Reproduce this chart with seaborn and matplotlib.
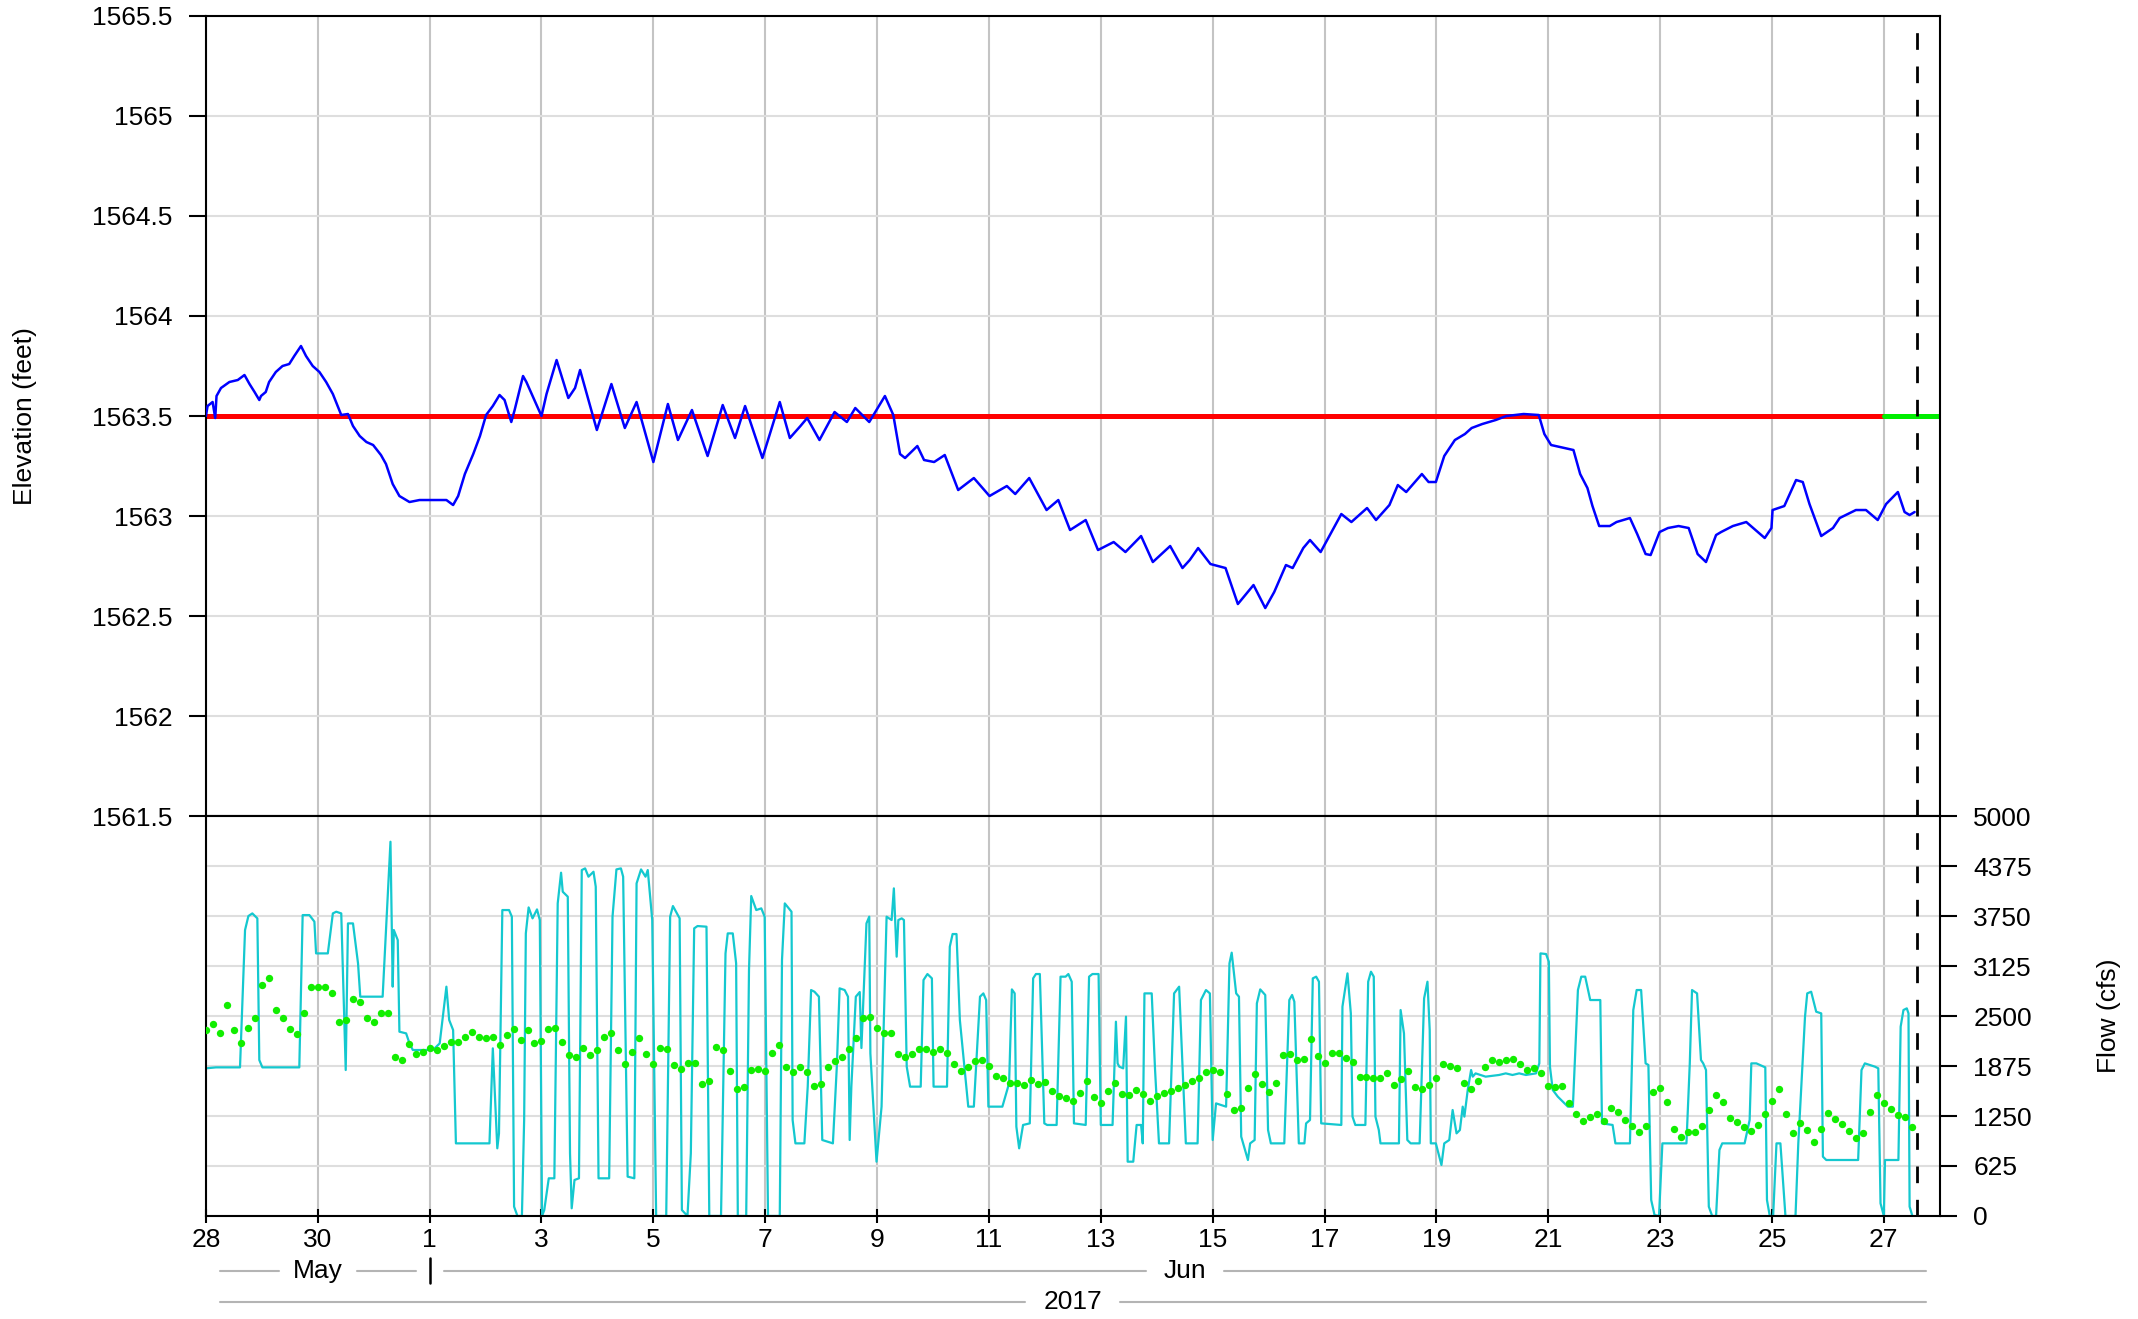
import pandas as pd
import seaborn as sns
import matplotlib.pyplot as plt
import matplotlib.dates as mdates
import matplotlib.transforms as mtransforms

start = pd.Timestamp('2017-05-28')

# lake elevation (days after May 28, feet)
elev_days = [0, 0.03, 0.12, 0.167, 0.19, 0.27, 0.42, 0.57, 0.69, 0.78, 0.87, 0.955, 0.985,
             1.07, 1.13, 1.25, 1.37, 1.49, 1.58, 1.70, 1.79, 1.91, 2.03, 2.15, 2.27, 2.42,
             2.54, 2.63, 2.75, 2.87, 2.99, 3.13, 3.22, 3.34, 3.46, 3.64, 3.82, 4.12, 4.30,
             4.42, 4.51, 4.63, 4.78, 4.90, 5.01, 5.13, 5.25, 5.34, 5.46, 5.52, 5.67, 5.73,
             6.00, 6.09, 6.27, 6.48, 6.60, 6.69, 6.99, 7.25, 7.49, 7.70, 8.00, 8.26, 8.44,
             8.69, 8.97, 9.24, 9.46, 9.64, 9.95, 10.26, 10.44, 10.63, 10.75, 10.97, 11.24,
             11.46, 11.61, 11.86, 12.14, 12.29, 12.41, 12.50, 12.72, 12.84, 13.02, 13.21,
             13.45, 13.73, 14.01, 14.32, 14.47, 14.72, 15.03, 15.24, 15.45, 15.73, 15.95,
             16.23, 16.44, 16.72, 16.93, 17.24, 17.46, 17.59, 17.74, 17.96, 18.23, 18.45,
             18.73, 18.94, 19.10, 19.31, 19.43, 19.62, 19.74, 19.93, 20.30, 20.48, 20.76,
             20.92, 21.16, 21.31, 21.46, 21.74, 21.86, 21.99, 22.14, 22.33, 22.51, 22.63,
             22.82, 23.06, 23.25, 23.56, 23.83, 23.93, 24.05, 24.29, 24.45, 24.57, 24.70,
             24.79, 24.91, 25.10, 25.22, 25.46, 25.59, 25.74, 25.83, 25.99, 26.14, 26.33,
             26.51, 26.67, 26.82, 27.00, 27.09, 27.30, 27.54, 27.87, 27.99, 28.01, 28.22,
             28.43, 28.55, 28.67, 28.88, 29.09, 29.21, 29.50, 29.68, 29.89, 30.04, 30.25,
             30.37, 30.46, 30.55]
elev_feet = [1563.50, 1563.55, 1563.57, 1563.49, 1563.60, 1563.64, 1563.67, 1563.68, 1563.705,
             1563.66, 1563.62, 1563.58, 1563.60, 1563.62, 1563.67, 1563.72, 1563.75, 1563.76,
             1563.80, 1563.85, 1563.80, 1563.75, 1563.72, 1563.67, 1563.61, 1563.505, 1563.51,
             1563.45, 1563.40, 1563.37, 1563.355, 1563.305, 1563.26, 1563.16, 1563.10, 1563.07,
             1563.08, 1563.08, 1563.08, 1563.055, 1563.10, 1563.21, 1563.31, 1563.40, 1563.505,
             1563.55, 1563.605, 1563.58, 1563.47, 1563.53, 1563.70, 1563.67, 1563.50, 1563.61,
             1563.78, 1563.59, 1563.64, 1563.73, 1563.43, 1563.66, 1563.44, 1563.57, 1563.27,
             1563.56, 1563.38, 1563.53, 1563.30, 1563.555, 1563.39, 1563.55, 1563.29, 1563.57,
             1563.39, 1563.45, 1563.49, 1563.38, 1563.52, 1563.47, 1563.54, 1563.47, 1563.60,
             1563.505, 1563.31, 1563.29, 1563.35, 1563.28, 1563.27, 1563.305, 1563.13, 1563.19,
             1563.10, 1563.15, 1563.11, 1563.19, 1563.03, 1563.08, 1562.93, 1562.98, 1562.83,
             1562.87, 1562.82, 1562.90, 1562.77, 1562.85, 1562.74, 1562.78, 1562.84, 1562.76,
             1562.74, 1562.56, 1562.655, 1562.54, 1562.62, 1562.755, 1562.74, 1562.84, 1562.88,
             1562.82, 1563.01, 1562.97, 1563.04, 1562.98, 1563.055, 1563.155, 1563.12, 1563.21,
             1563.17, 1563.17, 1563.30, 1563.38, 1563.41, 1563.44, 1563.46, 1563.48, 1563.50,
             1563.51, 1563.505, 1563.41, 1563.355, 1563.34, 1563.33, 1563.21, 1563.14, 1563.05,
             1562.95, 1562.95, 1562.97, 1562.99, 1562.91, 1562.81, 1562.805, 1562.92, 1562.94,
             1562.95, 1562.94, 1562.81, 1562.77, 1562.905, 1562.92, 1562.95, 1562.97, 1562.89,
             1562.94, 1563.03, 1563.05, 1563.18, 1563.17, 1563.06, 1562.90, 1562.94, 1562.99,
             1563.03, 1563.03, 1562.98, 1563.06, 1563.12, 1563.02, 1563.005, 1563.02]

# release flow (days after May 28, cfs)
flow_days = [0, 0.18, 0.61, 0.70, 0.76, 0.83, 0.92, 0.955, 1.01, 1.67, 1.73, 1.85, 1.94, 1.97,
             2.18, 2.27, 2.33, 2.42, 2.50, 2.54, 2.63, 2.72, 2.76, 3.16, 3.30, 3.34, 3.36, 3.43,
             3.46, 3.58, 3.64, 3.70, 4.06, 4.18, 4.30, 4.35, 4.42, 4.47, 5.07, 5.13, 5.21, 5.24,
             5.30, 5.42, 5.47, 5.51, 5.57, 5.65, 5.69, 5.72, 5.77, 5.84, 5.92, 5.97, 6.01, 6.05,
             6.13, 6.23, 6.29, 6.35, 6.38, 6.47, 6.51, 6.54, 6.59, 6.67, 6.72, 6.78, 6.84, 6.93,
             6.97, 7.02, 7.21, 7.27, 7.34, 7.42, 7.46, 7.54, 7.66, 7.70, 7.78, 7.86, 7.90, 7.98,
             8.05, 8.23, 8.30, 8.35, 8.47, 8.51, 8.61, 8.67, 8.73, 8.79, 8.95, 9.00, 9.21, 9.29,
             9.33, 9.42, 9.48, 9.51, 9.66, 9.71, 9.75, 9.84, 9.93, 9.99, 10.05, 10.26, 10.30,
             10.35, 10.47, 10.49, 10.54, 10.70, 10.76, 10.82, 10.88, 10.96, 11.02, 11.21, 11.28,
             11.33, 11.42, 11.48, 11.51, 11.54, 11.62, 11.69, 11.72, 11.81, 11.86, 11.88, 11.99,
             12.08, 12.17, 12.26, 12.30, 12.35, 12.38, 12.44, 12.48, 12.53, 12.59, 12.78, 12.83,
             12.90, 12.98, 13.01, 13.25, 13.30, 13.35, 13.42, 13.48, 13.63, 13.73, 13.84, 13.90,
             13.95, 13.99, 14.24, 14.36, 14.41, 14.46, 14.49, 14.54, 14.61, 14.73, 14.79, 14.84,
             14.91, 14.99, 15.04, 15.21, 15.28, 15.37, 15.42, 15.48, 15.52, 15.73, 15.79, 15.85,
             15.96, 16.00, 16.21, 16.27, 16.30, 16.33, 16.40, 16.45, 16.48, 16.58, 16.64, 16.72,
             16.75, 16.78, 16.91, 16.97, 17.04, 17.22, 17.31, 17.40, 17.52, 17.73, 17.79, 17.88,
             17.95, 18.00, 18.06, 18.24, 18.30, 18.34, 18.42, 18.47, 18.51, 18.63, 18.67, 18.75,
             18.79, 18.85, 18.94, 18.99, 19.04, 19.28, 19.37, 19.42, 19.46, 19.54, 19.64, 19.67,
             19.74, 19.79, 19.85, 19.90, 19.94, 20.30, 20.32, 20.41, 20.47, 20.50, 20.55, 20.73,
             20.78, 20.83, 20.88, 20.91, 20.97, 21.00, 21.33, 21.36, 21.42, 21.48, 21.54, 21.70,
             21.78, 21.84, 21.88, 21.90, 21.99, 22.09, 22.14, 22.23, 22.29, 22.36, 22.42, 22.47,
             22.50, 22.56, 22.62, 22.65, 22.70, 22.88, 23.12, 23.24, 23.36, 23.48, 23.60, 23.78,
             23.84, 23.86, 23.96, 24.01, 24.03, 24.08, 24.17, 24.35, 24.44, 24.53, 24.59, 24.66,
             24.75, 24.93, 24.96, 25.15, 25.20, 25.46, 25.52, 25.58, 25.66, 25.74, 25.79, 25.84,
             25.90, 25.98, 26.04, 26.47, 26.53, 26.57, 26.66, 26.73, 26.77, 26.82, 26.87, 26.93,
             27.00, 27.06, 27.11, 27.51, 27.60, 27.63, 27.72, 27.88, 27.91, 27.96, 28.02, 28.08,
             28.15, 28.24, 28.42, 28.47, 28.59, 28.63, 28.70, 28.79, 28.88, 28.91, 28.97, 29.54,
             29.60, 29.66, 29.84, 29.90, 29.94, 30.00, 30.02, 30.26, 30.30, 30.35, 30.41, 30.44,
             30.46, 30.51]
flow_cfs = [1846, 1858, 1858, 3575, 3750, 3783, 3721, 1950, 1858, 1858, 3762, 3762, 3680, 3283,
            3283, 3783, 3804, 3783, 1825, 3658, 3658, 3158, 2742, 2742, 4679, 2867, 3575, 3450,
            2304, 2283, 2158, 2075, 2075, 2158, 2867, 2450, 2325, 908, 908, 2096, 846, 1033,
            3825, 3825, 3742, 117, 0, 0, 1200, 3533, 3858, 3721, 3833, 3700, 0, 75,
            471, 471, 3908, 4292, 4054, 3992, 783, 96, 450, 471, 4325, 4346, 4242, 4304,
            4117, 471, 471, 3742, 4333, 4346, 4242, 492, 471, 4158, 4333, 4242, 4325, 3700,
            0, 0, 3742, 3875, 3721, 75, 0, 783, 3596, 3625, 3617, 0, 0, 3283,
            3533, 3533, 3158, 0, 0, 3075, 4000, 3825, 3846, 3742, 0, 0, 3200,
            3908, 3804, 1200, 908, 908, 1617, 2825, 2804, 2742, 950, 908, 1867,
            2846, 2825, 2742, 950, 1617, 2742, 2800, 2100, 3658, 3742, 2033, 679,
            1367, 3742, 3700, 4096, 3242, 3700, 3721, 3700, 1867, 1617, 1617, 2950,
            3025, 2971, 1617, 1617, 3367, 3525, 3525, 2450, 1367, 1367, 2742, 2783,
            2700, 1367, 1367, 1658, 2833, 2783, 1117, 846, 1138, 1158, 2971, 3025,
            3025, 1158, 1138, 1138, 2992, 2992, 3025, 2929, 1158, 1138, 2992, 3025,
            3025, 1138, 1138, 2429, 1908, 1867, 1846, 2492, 679, 679, 1138, 1138,
            908, 2783, 2783, 1825, 908, 908, 2783, 2867, 908, 908, 2700, 2825,
            2783, 950, 1408, 1367, 3158, 3292, 2783, 2742, 992, 700, 908, 950,
            2658, 2833, 2763, 1075, 908, 908, 2700, 2763, 2679, 908, 908, 1158,
            1200, 2971, 2992, 2929, 1158, 1138, 2617, 3033, 2533, 1242, 1138, 1138,
            2929, 3054, 2992, 1242, 1075, 908, 908, 2575, 2283, 950, 908, 908,
            2721, 2929, 2325, 908, 908, 638, 908, 950, 1325, 1033, 1075, 1367,
            1242, 1575, 1825, 1742, 1783, 1742, 1763, 1783, 1763, 1783, 1763, 1783,
            1908, 3283, 3275, 3179, 1867, 1575, 1492, 1367, 1367, 2825, 2992, 2992,
            2700, 2700, 1158, 1138, 908, 908, 2575, 2825, 2825, 1908, 1888, 200,
            12, 0, 908, 908, 1908, 2825, 2783, 1950, 1908, 1825, 117, 0,
            0, 825, 908, 908, 1200, 1908, 1908, 1858, 200, 0, 0, 908,
            908, 0, 0, 908, 2492, 2783, 2804, 2554, 2533, 742, 700, 700,
            1825, 1908, 1867, 1846, 158, 0, 700, 700, 2367, 2575, 2596, 2533,
            117, 0]

# 3-hourly average flow (cfs), starting May 28 00:00
avg_flow = [2325, 2400, 2283, 2637, 2325, 2158, 2346, 2471, 2888, 2971,
            2575, 2471, 2333, 2275, 2533, 2867, 2858, 2858, 2792, 2429,
            2450, 2708, 2679, 2471, 2429, 2533, 2533, 1992, 1950, 2150,
            2021, 2054, 2096, 2075, 2129, 2175, 2179, 2233, 2304, 2242,
            2221, 2233, 2138, 2263, 2340,
            2200, 2325, 2158, 2192, 2333, 2354, 2179, 2013, 1983, 2104,
            2013, 2075, 2242, 2283, 2075, 1896, 2054, 2221, 2021, 1896,
            2100, 2083, 1888, 1838, 1917, 1908, 1650, 1683, 2117, 2075,
            1817, 1592, 1612, 1825, 1842, 1817, 2033, 2138, 1867, 1804,
            1867, 1804, 1625, 1650, 1867, 1933, 1983, 2088, 2221, 2471,
            2492, 2346, 2288, 2292, 2021, 1983, 2021, 2083, 2083, 2054,
            2083, 2033, 1900, 1817, 1858, 1942, 1950,
            1880, 1754, 1725, 1658, 1658, 1638, 1696, 1650, 1675, 1567,
            1504, 1471, 1438, 1533, 1683, 1483, 1408, 1558, 1667, 1521,
            1513, 1571, 1529, 1438, 1504, 1538, 1563, 1596, 1633, 1688,
            1725, 1800, 1825, 1800, 1525, 1321, 1346, 1596, 1771, 1646,
            1550, 1667, 2013, 2025, 1950, 1958, 2213, 2004, 1917, 2038,
            2042, 1971, 1929,
            1742, 1738, 1721, 1721, 1788, 1633, 1717, 1817, 1608, 1592,
            1642, 1729, 1904, 1875, 1846, 1667, 1583, 1683, 1867, 1946,
            1929, 1950, 1967, 1896, 1829, 1846, 1788, 1621, 1617, 1621,
            1408, 1271, 1192, 1233, 1271, 1183, 1346, 1300, 1204, 1125,
            1050, 1125, 1550,
            1605, 1425, 1090, 992, 1050, 1054, 1121, 1325, 1513, 1429,
            1221, 1175, 1117, 1058, 1138, 1275, 1438, 1588, 1279, 1033,
            1158, 1079, 925, 1092, 1292, 1217, 1150, 1067, 975, 1042,
            1304, 1508, 1417, 1338, 1267, 1242, 1117]

# target elevation: observed period and forecast period
target_dates = ['2017-05-28', '2017-06-27']
forecast_dates = ['2017-06-27', '2017-06-28']
target_elev = [1563.5, 1563.5]
now_date = '2017-06-27 14:24'

x_tick_labels = ['28', '30', '1', '3', '5', '7', '9', '11', '13', '15', '17', '19', '21', '23', '25', '27']
elev_ticks = [1561.5, 1562, 1562.5, 1563, 1563.5, 1564, 1564.5, 1565, 1565.5]
elev_tick_labels = ['1561.5', '1562', '1562.5', '1563', '1563.5', '1564', '1564.5', '1565', '1565.5']
flow_ticks = [0, 625, 1250, 1875, 2500, 3125, 3750, 4375, 5000]
months = ['May', 'Jun']
month_starts = ['2017-05-28', '2017-06-01']
month_ends = ['2017-06-01', '2017-06-28']

elev = pd.DataFrame({'time': start + pd.to_timedelta(elev_days, unit='D'), 'elev': elev_feet})
flow = pd.DataFrame({'time': start + pd.to_timedelta(flow_days, unit='D'), 'flow': flow_cfs})
avg = pd.DataFrame({'time': pd.date_range(start, periods=len(avg_flow), freq='3h'), 'flow': avg_flow})
target = pd.DataFrame({'time': pd.to_datetime(target_dates), 'elev': target_elev})
forecast = pd.DataFrame({'time': pd.to_datetime(forecast_dates), 'elev': target_elev})

sns.set_theme(style='white', rc={'axes.edgecolor': 'black', 'text.color': 'black',
                                 'xtick.color': 'black', 'ytick.color': 'black',
                                 'axes.labelcolor': 'black'})
plt.rcParams['font.family'] = ['Liberation Sans', 'DejaVu Sans']

fig = plt.figure(figsize=(21.38, 13.19), dpi=100)
ax1 = fig.add_axes([0.0963, 0.3813, 0.8110, 0.6066])
ax2 = fig.add_axes([0.0963, 0.0781, 0.8110, 0.3032], sharex=ax1)

# top panel: elevation
sns.lineplot(data=target, x='time', y='elev', ax=ax1, color='#ff0000', linewidth=3.6, zorder=2)
sns.lineplot(data=forecast, x='time', y='elev', ax=ax1, color='#00ee00', linewidth=3.6, zorder=2)
sns.lineplot(data=elev, x='time', y='elev', ax=ax1, color='#0000ff', linewidth=1.8,
             estimator=None, zorder=3)

# bottom panel: flow
sns.lineplot(data=flow, x='time', y='flow', ax=ax2, color='#14c8cf', linewidth=1.6,
             estimator=None, zorder=2)
sns.scatterplot(data=avg, x='time', y='flow', ax=ax2, color='#11ee00', s=28,
                linewidth=0, zorder=3)

x_ticks = pd.date_range(start, periods=len(x_tick_labels), freq='2D')
ax1.set_xlim(start, start + pd.Timedelta(days=31))
ax1.set_xticks(x_ticks)
ax2.set_xticks(x_ticks)
ax2.set_xticklabels(x_tick_labels)

ax1.set_ylim(1561.5, 1565.5)
ax1.set_yticks(elev_ticks)
ax1.set_yticklabels(elev_tick_labels)
ax2.set_ylim(0, 5000)
ax2.set_yticks(flow_ticks)
ax2.yaxis.tick_right()

for ax in (ax1, ax2):
    ax.set_xlabel('')
    ax.set_ylabel('')
    ax.set_axisbelow(True)
    ax.grid(True, axis='x', color='#c4c4c4', linewidth=1.5)
    ax.grid(True, axis='y', color='#dedede', linewidth=1.5)
    for s in ax.spines.values():
        s.set_color('black')
        s.set_linewidth(1.5)
    ax.axvline(pd.Timestamp(now_date), color='black', linewidth=2, linestyle=(0, (6, 6)), zorder=4)

ax1.tick_params(axis='y', left=True, right=False, direction='out', length=12, width=1.5,
                labelsize=19, pad=12)
ax1.tick_params(axis='x', bottom=False, top=False, labelbottom=False)
ax2.tick_params(axis='y', left=False, right=True, labelleft=False, labelright=True,
                direction='out', length=12, width=1.5, labelsize=19, pad=12)
ax2.tick_params(axis='x', bottom=True, direction='inout', length=10, width=1.5,
                labelsize=19, pad=4)

fig.text(0.0115, 0.6846, 'Elevation (feet)', rotation=90, ha='center', va='center', fontsize=19)
fig.text(0.9865, 0.2297, 'Flow (cfs)', rotation=90, ha='center', va='center', fontsize=19)

# month and year rows under the axis
trans = mtransforms.blended_transform_factory(ax2.transData, ax2.transAxes)
gray = '#b4b4b4'
edge = 0.25
for name, s0, s1 in zip(months, month_starts, month_ends):
    a = mdates.date2num(pd.Timestamp(s0))
    b = mdates.date2num(pd.Timestamp(s1))
    c = (a + b) / 2
    ax2.plot([a + edge, c - 0.7], [-0.137, -0.137], color=gray, lw=1.5, transform=trans, clip_on=False)
    ax2.plot([c + 0.7, b - edge], [-0.137, -0.137], color=gray, lw=1.5, transform=trans, clip_on=False)
    ax2.text(c, -0.137, name, transform=trans, ha='center', va='center', fontsize=19)
jun1 = mdates.date2num(pd.Timestamp('2017-06-01'))
ax2.plot([jun1, jun1], [-0.105, -0.168], color='black', lw=1.8, transform=trans, clip_on=False)

a = mdates.date2num(start)
b = mdates.date2num(start + pd.Timedelta(days=31))
c = (a + b) / 2
ax2.plot([a + edge, c - 0.85], [-0.215, -0.215], color=gray, lw=1.5, transform=trans, clip_on=False)
ax2.plot([c + 0.85, b - edge], [-0.215, -0.215], color=gray, lw=1.5, transform=trans, clip_on=False)
ax2.text(c, -0.215, '2017', transform=trans, ha='center', va='center', fontsize=19)

plt.savefig('out.png', dpi=100)
